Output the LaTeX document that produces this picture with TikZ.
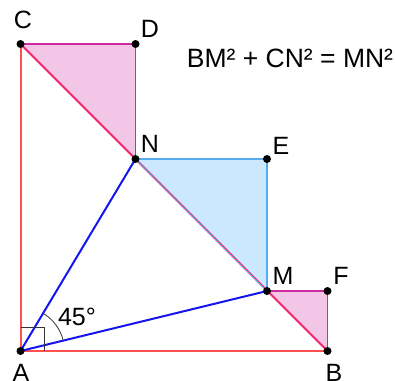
\documentclass[tikz,border=0pt]{standalone}
\usepackage{fontspec}
\setmainfont{Liberation Sans}
\usetikzlibrary{calc}
\definecolor{sidered}{HTML}{FF5050}
\definecolor{diagred}{HTML}{F0246A}
\definecolor{pinkfill}{HTML}{F3C6E8}
\definecolor{pinkedge}{HTML}{CC2A9E}
\definecolor{bluefill}{HTML}{CCE8FF}
\definecolor{blueedge}{HTML}{55AAEE}
\definecolor{rayblue}{HTML}{1414F0}
\definecolor{markgray}{HTML}{333333}

\tikzset{
  pt/.style={circle, fill=black, inner sep=0pt, minimum size=8pt},
  lbl/.style={font=\fontsize{25}{29}\selectfont, inner sep=0pt}
}

\begin{document}
\begin{tikzpicture}[x=1pt, y=-1pt]

% Frame
\useasboundingbox (0,0) rectangle (395,380);

% Points
\coordinate (A) at (20.5,351);
\coordinate (B) at (327.5,351);
\coordinate (C) at (20.5,44);
\coordinate (D) at (135.5,44);
\coordinate (N) at (135.5,159);
\coordinate (E) at (267,159);
\coordinate (M) at (267,291);
\coordinate (F) at (327.5,291);

% Triangles
\fill[pinkfill] (C) -- (D) -- (N) -- cycle;
\fill[pinkfill] (M) -- (F) -- (B) -- cycle;
\fill[bluefill] (N) -- (E) -- (M) -- cycle;
\draw[pinkedge, line width=1.2pt] (C) -- (D) -- (N);
\draw[pinkedge, line width=1.2pt] (M) -- (F) -- (B);
\draw[blueedge, line width=1.6pt] (N) -- (E) -- (M);

% Square sides
\draw[sidered, line width=2pt] (B) -- (A) -- (C);

% Diagonal
\draw[diagred, line width=1.8pt] (C) -- (B);
\draw[blueedge, line width=0.8pt] (N) -- (M);

% Rays from A
\draw[rayblue, line width=2pt] (A) -- (N);
\draw[rayblue, line width=2pt] (A) -- (M);

% Right angle and 45 degree marks
\draw[markgray, line width=0.8pt] ($(A)+(0,-24)$) -- ($(A)+(24,-24)$) -- ($(A)+(24,0)$);
\draw[markgray, line width=0.8pt]
  let \p1=($(M)-(A)$), \p2=($(N)-(A)$),
      \n1={atan2(\y1,\x1)}, \n2={atan2(\y2,\x2)} in
  (A) ++(\n1:44pt) arc[start angle=\n1, end angle=\n2, radius=44pt];

\foreach \p in {A,B,C,D,N,E,M,F}
  \node[pt] at (\p) {};

% Labels
\node[lbl] (lA) at (21,373) {A};
\node[lbl] (lB) at (334,373) {B};
\node[lbl] (lC) at (23,20) {C};
\node[lbl] (lD) at (150,29) {D};
\node[lbl] (lN) at (150,144) {N};
\node[lbl] (lE) at (281,146) {E};
\node[lbl] (lM) at (283,276) {M};
\node[lbl] (lF) at (341,276) {F};
\node[lbl] (ang) at (77,317) {45°};
\node[lbl, font=\fontsize{26.5}{30}\selectfont] (eq) at (290,58) {BM² + CN² = MN²};

\end{tikzpicture}
\end{document}
